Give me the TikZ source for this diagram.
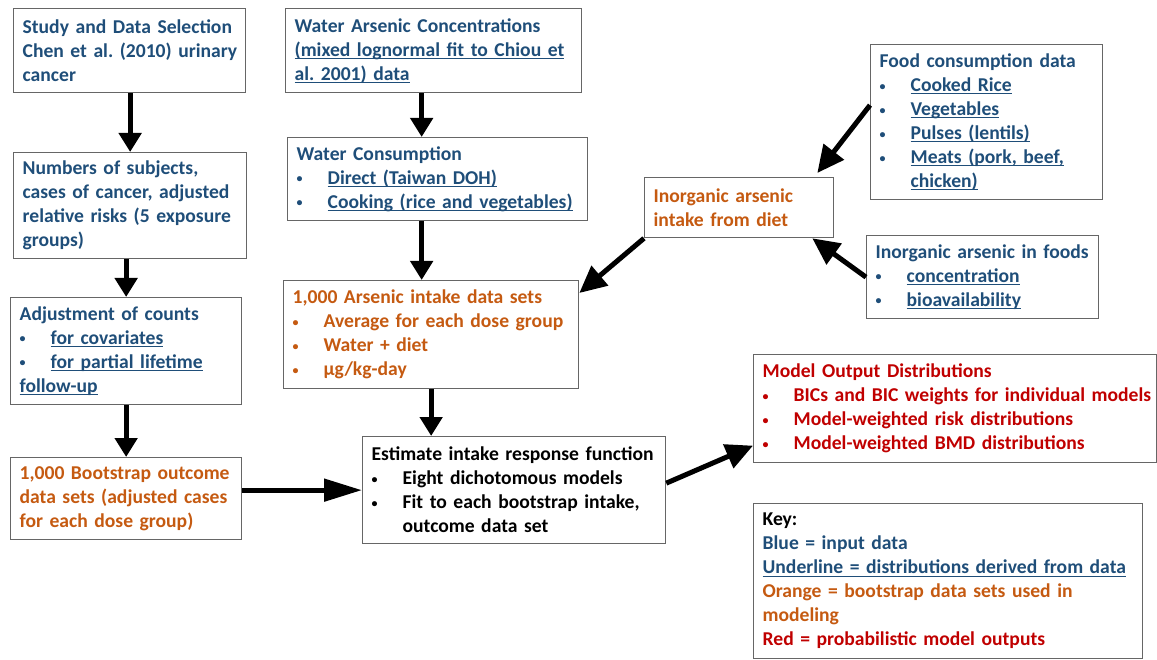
\documentclass[tikz,border=0pt]{standalone}
\usepackage{fontspec}
\setmainfont{Carlito}
\usetikzlibrary{arrows.meta}
\definecolor{inblue}{RGB}{31,78,121}
\definecolor{bsorange}{RGB}{197,90,17}
\definecolor{outred}{RGB}{192,0,0}
\newcommand\dul[1]{\leavevmode\setbox0\hbox{#1}\rlap{\rule[-2.6pt]{\wd0}{0.9pt}}\box0}
\newcommand\bl[1]{\mbox{\makebox[31pt][l]{\raisebox{1.5pt}{\fontsize{12}{12}\selectfont\textbullet}}#1}}

\begin{document}
\begin{tikzpicture}[x=1pt,y=-1pt,line width=5pt,>={Triangle[length=19pt,width=22pt]},
box/.style={draw=black!60,line width=1.3pt,anchor=north west,inner xsep=9pt,inner ysep=3pt,
align=left,font=\bfseries\fontsize{19.6}{24}\selectfont\frenchspacing}]
\useasboundingbox (0,0) rectangle (1157,660);
\node[box,text=inblue,text width=214pt,minimum height=84pt](study)at(13,8){Study and Data Selection\\\mbox{Chen et al. (2010) urinary}\\cancer};
\node[box,text=inblue,text width=278pt,minimum height=84pt](wconc)at(285,8){Water Arsenic Concentrations\\\dul{(mixed lognormal fit to Chiou et}\\\dul{al. 2001) data}};
\node[box,text=inblue,text width=215pt,minimum height=106pt](subj)at(13,152){Numbers of subjects,\\\mbox{cases of cancer, adjusted}\\\mbox{relative risks (5 exposure}\\groups)};
\node[box,text=inblue,text width=282pt,minimum height=83pt](wcons)at(287,137){Water Consumption\\\bl{\dul{Direct (Taiwan DOH)}}\\\bl{\dul{Cooking (rice and vegetables)}}};
\node[box,text=inblue,text width=213pt,minimum height=107pt](adj)at(10,297){Adjustment of counts\\\bl{\dul{for covariates}}\\\bl{\dul{for partial lifetime}}\\\dul{follow-up}};
\node[box,text=bsorange,text width=213pt,minimum height=82pt](boot)at(10,457){\mbox{1,000 Bootstrap outcome}\\\mbox{data sets (adjusted cases}\\for each dose group)};
\node[box,text=bsorange,text width=277pt,minimum height=108pt](ars)at(283,280){\mbox{1,000 Arsenic intake data sets}\\\bl{Average for each dose group}\\\bl{Water + diet}\\\bl{µg/kg-day}};
\node[box,text=black,text width=285pt,minimum height=107pt](est)at(362,436){\mbox{Estimate intake response function}\\\bl{Eight dichotomous models}\\\bl{Fit to each bootstrap intake,}\\\hspace*{31pt}outcome data set};
\node[box,text=inblue,text width=214pt,minimum height=155pt](food)at(870,44){Food consumption data\\\bl{\dul{Cooked Rice}}\\\bl{\dul{Vegetables}}\\\bl{\dul{Pulses (lentils)}}\\\bl{\dul{Meats (pork, beef,}}\\\hspace*{31pt}\dul{chicken)}};
\node[box,text=bsorange,text width=171pt,minimum height=60pt](intake)at(644,177){Inorganic arsenic\\intake from diet};
\node[box,text=inblue,text width=214pt,minimum height=83pt](foods)at(866,235){\mbox{Inorganic arsenic in foods}\\\bl{\dul{concentration}}\\\bl{\dul{bioavailability}}};
\node[box,text=outred,text width=385pt,minimum height=108pt](model)at(753,354){Model Output Distributions\\\bl{BICs and BIC weights for individual models}\\\bl{Model-weighted risk distributions}\\\bl{Model-weighted BMD distributions}};
\node[box,text=black,text width=371pt,minimum height=155pt](key)at(753,503){Key:\\\textcolor{inblue}{Blue = input data}\\\textcolor{inblue}{\dul{Underline = distributions derived from data}}\\\textcolor{bsorange}{\mbox{Orange = bootstrap data sets used in}}\\\textcolor{bsorange}{modeling}\\\textcolor{outred}{\mbox{Red = probabilistic model outputs}}};
\foreach \x/\y in {study/subj,subj/adj,adj/boot}
\draw[->](\y.north |- \x.south)--(\y.north);
\coordinate(w1)at([xshift=-12pt]wconc.south);
\coordinate(w2)at([xshift=-16pt]wcons.south);
\draw[->](w1)--(w1 |- wcons.north);
\draw[->](w2)--(w2 |- ars.north);
\draw[->](ars.south)--(ars.south |- est.north);
\draw[->,>={Triangle[length=38pt,width=22pt]}](boot.east |- est.west)--(est.west);
\begin{scope}[>={Triangle[length=27pt,width=25pt]}]
\draw[->]([yshift=17pt]food.west)--([xshift=-17pt,yshift=4pt]intake.north east);
\draw[->](foods.west)--([xshift=-22pt]intake.south east);
\draw[->](intake.south west)--([yshift=-13pt]ars.north east);
\draw[->]([yshift=7pt]est.east)--([yshift=-37pt]model.west);
\end{scope}
\end{tikzpicture}
\end{document}
